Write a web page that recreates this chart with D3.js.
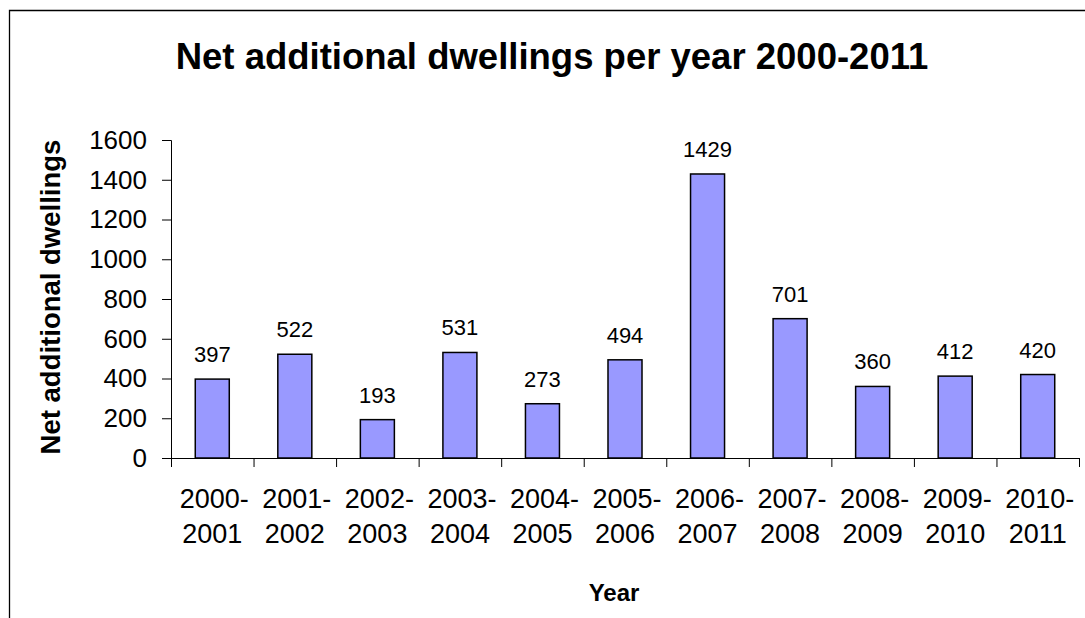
<!DOCTYPE html>
<html>
<head>
<meta charset="utf-8">
<script src="https://cdn.jsdelivr.net/npm/d3@7"></script>
<style>
  body { margin: 0; background: #fff; }
  svg { display: block; font-family: "Liberation Sans", Arial, sans-serif; }
</style>
</head>
<body>
<svg id="chart"></svg>
<script>
// ---- data ----
const periods = ["2000-2001", "2001-2002", "2002-2003", "2003-2004", "2004-2005", "2005-2006",
                 "2006-2007", "2007-2008", "2008-2009", "2009-2010", "2010-2011"];
const dwellings = [397, 522, 193, 531, 273, 494, 1429, 701, 360, 412, 420];
const yTicks = [0, 200, 400, 600, 800, 1000, 1200, 1400, 1600];

const width = 1085, height = 618;
const plotLeft = 171, plotRight = 1079, plotTop = 140, plotBottom = 458;

const svg = d3.select("#chart").attr("width", width).attr("height", height);

// frame (only top + left edges show)
svg.append("path")
  .attr("d", `M9.5,${height}V10.5H${width}`)
  .attr("fill", "none").attr("stroke", "#000").attr("stroke-width", 1.3);

const x = d3.scaleBand().domain(periods).range([plotLeft, plotRight])
  .paddingInner(0.588).paddingOuter(0.294);
const y = d3.scaleLinear().domain([0, 1600]).range([plotBottom, plotTop]);

// title
svg.append("text")
  .attr("x", 552).attr("y", 69)
  .attr("text-anchor", "middle")
  .attr("font-weight", "bold").attr("font-size", 36.5)
  .text("Net additional dwellings per year 2000-2011");

// y axis
const yAxis = svg.append("g")
  .attr("transform", `translate(${plotLeft},0)`)
  .call(d3.axisLeft(y).tickValues(yTicks).tickFormat(d3.format("d")).tickSize(9).tickPadding(15));
yAxis.attr("font-family", null).attr("font-size", null);
yAxis.select(".domain").attr("stroke", "#000");
yAxis.selectAll("text").attr("font-size", 26).attr("fill", "#000");

// x axis: ticks on category boundaries
const xb = d3.scaleLinear().domain([0, periods.length]).range([plotLeft, plotRight]);
const xAxis = svg.append("g")
  .attr("transform", `translate(0,${plotBottom})`)
  .call(d3.axisBottom(xb).ticks(periods.length).tickSize(9).tickFormat(""));
xAxis.select(".domain").attr("d", `M${plotLeft},0.5H${plotRight}`).attr("stroke", "#000");

// x labels on two lines
const xl = svg.append("g").selectAll("text").data(periods).join("text")
  .attr("text-anchor", "middle")
  .attr("font-size", 27)
  .attr("transform", d => `translate(${x(d) + x.bandwidth() / 2},0)`);
xl.append("tspan").attr("x", 2).attr("y", 508).text(d => d.split("-")[0] + "-");
xl.append("tspan").attr("x", 0).attr("y", 543).text(d => d.split("-")[1]);

// bars
svg.append("g").selectAll("rect").data(dwellings).join("rect")
  .attr("x", (d, i) => x(periods[i]))
  .attr("y", d => y(d))
  .attr("width", x.bandwidth())
  .attr("height", d => y(0) - y(d))
  .attr("fill", "#9999ff")
  .attr("stroke", "#000").attr("stroke-width", 1.5);

// value labels
svg.append("g").selectAll("text").data(dwellings).join("text")
  .attr("x", (d, i) => x(periods[i]) + x.bandwidth() / 2)
  .attr("y", d => y(d) - 17)
  .attr("text-anchor", "middle")
  .attr("font-size", 22)
  .text(d => d);

// axis titles
svg.append("text")
  .attr("transform", "translate(60,297) rotate(-90)")
  .attr("text-anchor", "middle")
  .attr("font-weight", "bold").attr("font-size", 27.5)
  .text("Net additional dwellings");

svg.append("text")
  .attr("x", 614).attr("y", 601)
  .attr("text-anchor", "middle")
  .attr("font-weight", "bold").attr("font-size", 24)
  .text("Year");
</script>
</body>
</html>
